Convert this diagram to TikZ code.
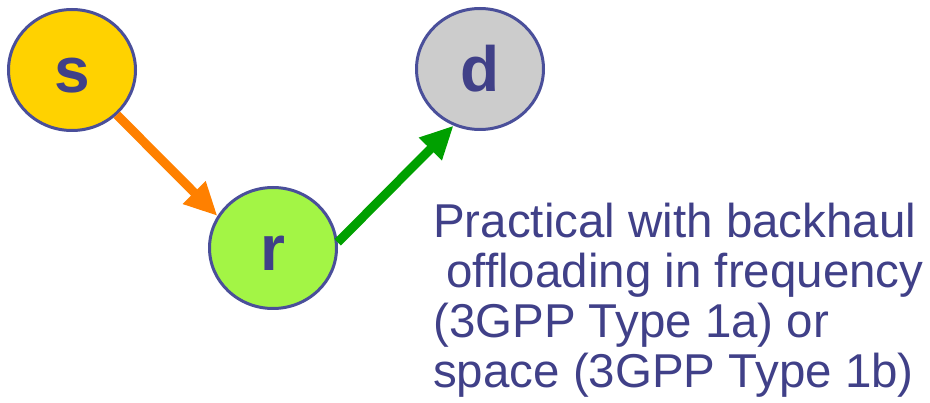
\documentclass[tikz,border=0pt]{standalone}
\usepackage{fontspec}
\setmainfont{Liberation Sans}
\usetikzlibrary{shapes.geometric,arrows.meta}
\definecolor{edgeblue}{HTML}{4A4F9A}
\definecolor{txtblue}{HTML}{404088}
\definecolor{sfill}{HTML}{FFD200}
\definecolor{dfill}{HTML}{CCCCCC}
\definecolor{rfill}{HTML}{A3F545}
\definecolor{arrorange}{HTML}{FF8000}
\definecolor{arrgreen}{HTML}{00A000}
\tikzset{
  station/.style={ellipse, draw=edgeblue, line width=3pt, inner sep=0pt,
    minimum width=127pt, minimum height=121pt, text=txtblue,
    text height=46pt, text depth=0pt,
    font=\fontsize{64}{64}\selectfont\bfseries},
  link/.style={line width=9pt, -{Triangle[width=30pt,length=33pt]}}
}
\begin{document}
\begin{tikzpicture}[x=1pt,y=-1pt]
\useasboundingbox (0,0) rectangle (930,403);
\node[station, fill=sfill] (s) at (72,70) {s};
\node[station, fill=dfill] (d) at (480,69) {d};
\node[station, fill=rfill] (r) at (273,248) {r};
\draw[link, arrorange] (s.-45) -- (r.150);
\draw[link, arrgreen] (r.5) -- (d.245);
\node[anchor=base west, align=left, inner sep=0pt, text=txtblue,
  font=\fontsize{47.5}{50}\selectfont] (t) at (433,388)
  {Practical with backhaul\\\ offloading in frequency\\(3GPP Type 1a) or\\space (3GPP Type 1b)};
\end{tikzpicture}
\end{document}
